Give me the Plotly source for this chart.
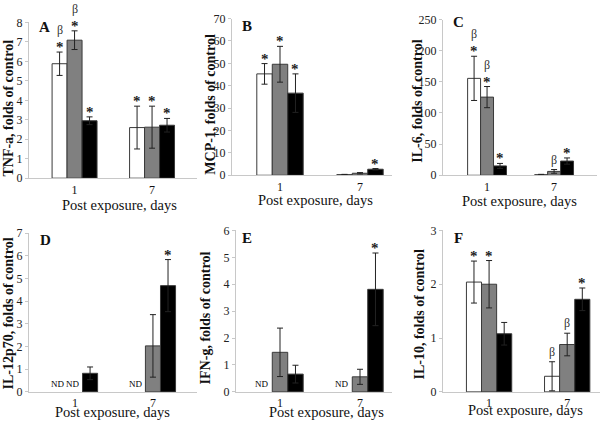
import plotly.graph_objects as go

# ---------------- data ----------------
days = ["1", "7"]
series_names = ["Group 1", "Group 2", "Group 3"]
series_colors = ["#ffffff", "#808080", "#000000"]

# Panel A: TNF-a
tnf_white = [5.88, 2.60]; tnf_white_err = [0.60, 1.10]
tnf_gray = [7.09, 2.62]; tnf_gray_err = [0.48, 1.08]
tnf_black = [2.95, 2.72]; tnf_black_err = [0.20, 0.35]
tnf_marks = [["β*", "β*", "*"], ["*", "*", "*"]]

# Panel B: MCP-1
mcp_white = [45.3, 0.3]; mcp_white_err = [4.6, 0.1]
mcp_gray = [49.6, 0.9]; mcp_gray_err = [8.0, 0.3]
mcp_black = [36.7, 2.7]; mcp_black_err = [8.6, 0.3]
mcp_marks = [["*", "*", "*"], ["", "", "*"]]

# Panel C: IL-6
il6_white = [155.6, 1.0]; il6_white_err = [35.5, 0.5]
il6_gray = [125.5, 6.2]; il6_gray_err = [17.0, 3.0]
il6_black = [15.0, 22.8]; il6_black_err = [4.0, 5.0]
il6_marks = [["β*", "β*", "*"], ["", "β", "*"]]

# Panel D: IL-12p70 (None = not detected)
il12_white = [None, None]; il12_white_err = [0, 0]
il12_gray = [None, 2.03]; il12_gray_err = [0, 1.38]
il12_black = [0.82, 4.69]; il12_black_err = [0.28, 1.15]
il12_marks = [["ND", "ND", ""], ["ND", "", "*"]]

# Panel E: IFN-g
ifn_white = [None, None]; ifn_white_err = [0, 0]
ifn_gray = [1.47, 0.56]; ifn_gray_err = [0.90, 0.28]
ifn_black = [0.66, 3.81]; ifn_black_err = [0.33, 1.35]
ifn_marks = [["ND", "", ""], ["ND", "", "*"]]

# Panel F: IL-10
il10_white = [2.04, 0.29]; il10_white_err = [0.39, 0.27]
il10_gray = [2.00, 0.88]; il10_gray_err = [0.44, 0.21]
il10_black = [1.08, 1.72]; il10_black_err = [0.21, 0.21]
il10_marks = [["*", "*", ""], ["β", "β", "*"]]

y_titles = ["TNF-a, folds of control", "MCP-1, folds of control", "IL-6, folds of control",
            "IL-12p70, folds of control", "IFN-g, folds of control", "IL-10, folds of control"]
panel_letters = ["A", "B", "C", "D", "E", "F"]
y_max = [8, 70, 250, 7, 6, 3]
y_dtick = [1, 10, 50, 1, 1, 1]

panels = [
    ([tnf_white, tnf_gray, tnf_black], [tnf_white_err, tnf_gray_err, tnf_black_err], tnf_marks),
    ([mcp_white, mcp_gray, mcp_black], [mcp_white_err, mcp_gray_err, mcp_black_err], mcp_marks),
    ([il6_white, il6_gray, il6_black], [il6_white_err, il6_gray_err, il6_black_err], il6_marks),
    ([il12_white, il12_gray, il12_black], [il12_white_err, il12_gray_err, il12_black_err], il12_marks),
    ([ifn_white, ifn_gray, ifn_black], [ifn_white_err, ifn_gray_err, ifn_black_err], ifn_marks),
    ([il10_white, il10_gray, il10_black], [il10_white_err, il10_gray_err, il10_black_err], il10_marks),
]

# ---------------- layout geometry (pixels) ----------------
W, H = 600, 425
# (left, right, top, bottom) of plot areas
boxes = [(29, 197, 16, 177), (232, 392, 12, 174), (443, 597, 13, 174),
         (29, 197, 234, 398), (236, 392, 231, 398), (443, 600, 231, 398)]
# x range of numeric category axis
x_ranges = [(-0.588, 1.58), (-0.6, 1.4), (-0.657, 1.64),
            (-0.59, 1.565), (-0.55, 1.4), (-0.59, 1.42)]
ytitle_pos = [(9, 105), (211, 101), (418, 97), (9, 317), (205, 322), (420, 318)]
xtitle_pos = [(119, 205), (315, 200), (519, 201), (112, 419), (326, 419), (525, 417)]
letter_pos = [(44, 21), (247, 20), (458, 16), (45, 241), (247, 239), (458, 239)]

BARGAP = 0.42
slot = (1 - BARGAP) / 3
serif = "Liberation Serif, Times New Roman, serif"
xpos = [0, 1]

fig = go.Figure()
annotations = []
layout = {}

for p, (vals, errs, marks) in enumerate(panels):
    sfx = "" if p == 0 else str(p + 1)
    xa, ya = "x" + sfx, "y" + sfx
    for s in range(3):
        fig.add_trace(go.Bar(
            x=xpos, y=vals[s], name=series_names[s], showlegend=False,
            marker=dict(color=series_colors[s], line=dict(color="#3a3a3a", width=1)),
            error_y=dict(type="data", array=errs[s], visible=True,
                         color="#222222", thickness=1, width=3),
            xaxis=xa, yaxis=ya, hoverinfo="y"))
    # significance marks
    for g in range(2):
        for s in range(3):
            m = marks[g][s]
            if not m:
                continue
            xv = xpos[g] + (s - 1) * slot
            v = vals[s][g]
            if m == "ND":
                annotations.append(dict(x=xv - 0.03, y=0, xref=xa, yref=ya, text="ND",
                                        showarrow=False, yanchor="bottom", yshift=1,
                                        font=dict(family=serif, size=9, color="#000")))
                continue
            top = (v or 0) + errs[s][g]
            shift = 0
            if "*" in m:
                annotations.append(dict(x=xv, y=top, xref=xa, yref=ya, text="<b>*</b>",
                                        showarrow=False, yanchor="bottom", yshift=-5,
                                        font=dict(family=serif, size=15, color="#222")))
                shift = 12
            if "β" in m:
                annotations.append(dict(x=xv, y=top, xref=xa, yref=ya, text="β",
                                        showarrow=False, yanchor="bottom", yshift=1 + shift,
                                        font=dict(family=serif, size=12, color="#333")))
    L, R, T, B = boxes[p]
    layout["xaxis" + sfx] = dict(
        domain=[L / W, R / W], anchor=ya, range=list(x_ranges[p]),
        tickvals=xpos, ticktext=days, showgrid=False, zeroline=False,
        showline=True, linecolor="#c8c8c8", linewidth=1, ticks="",
        tickfont=dict(family=serif, size=12, color="#111"), fixedrange=True)
    layout["yaxis" + sfx] = dict(
        domain=[1 - B / H, 1 - T / H], anchor=xa, range=[0, y_max[p]],
        dtick=y_dtick[p], showgrid=False, zeroline=False,
        showline=True, linecolor="#c8c8c8", linewidth=1,
        ticks="outside", ticklen=3, tickcolor="#c8c8c8",
        tickfont=dict(family=serif, size=12, color="#222"), fixedrange=True)
    tx, ty = ytitle_pos[p]
    annotations.append(dict(x=tx / W, y=1 - ty / H, xref="paper", yref="paper",
                            text=y_titles[p], textangle=-90, showarrow=False,
                            xanchor="center", yanchor="middle",
                            font=dict(family=serif, size=14, color="#111", weight="bold")))
    tx, ty = xtitle_pos[p]
    annotations.append(dict(x=tx / W, y=1 - ty / H, xref="paper", yref="paper",
                            text="Post exposure, days", showarrow=False,
                            xanchor="center", yanchor="middle",
                            font=dict(family=serif, size=14.5, color="#111")))
    tx, ty = letter_pos[p]
    annotations.append(dict(x=tx / W, y=1 - ty / H, xref="paper", yref="paper",
                            text="<b>" + panel_letters[p] + "</b>", showarrow=False,
                            xanchor="center", yanchor="middle",
                            font=dict(family=serif, size=15, color="#111")))

fig.update_layout(
    width=W, height=H, margin=dict(l=0, r=0, t=0, b=0),
    paper_bgcolor="white", plot_bgcolor="white",
    barmode="group", bargap=BARGAP, bargroupgap=0,
    annotations=annotations, **layout)

fig.write_html("out.html", config={"displayModeBar": False},
               post_script="document.body.style.margin='0px';")
